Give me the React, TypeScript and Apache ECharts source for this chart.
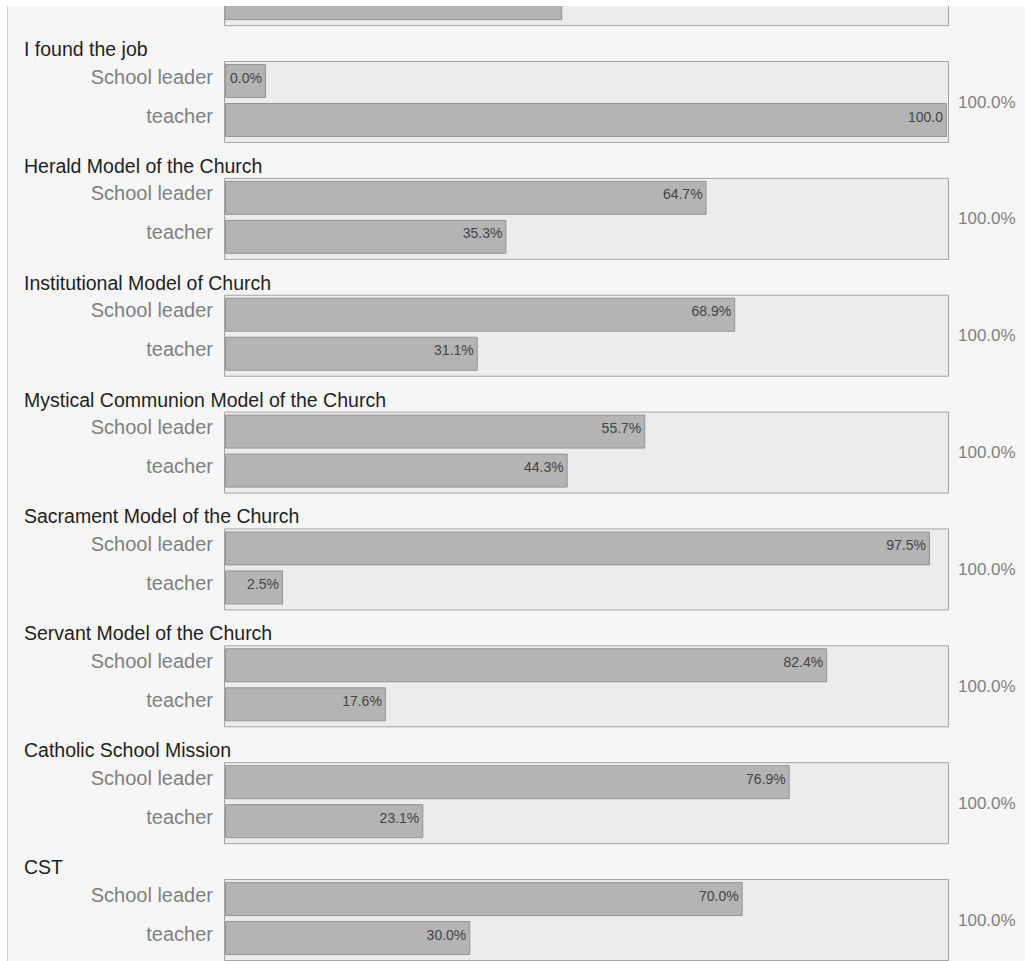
import React, { useEffect, useRef } from "react";
import * as echarts from "echarts";

// ---- data ----
const GROUPS = [
  "",
  "I found the job",
  "Herald Model of the Church",
  "Institutional Model of Church",
  "Mystical Communion Model of the Church",
  "Sacrament Model of the Church",
  "Servant Model of the Church",
  "Catholic School Mission",
  "CST",
];
const ROLES = ["School leader", "teacher"];
const SCHOOL_LEADER = [56.5, 0.0, 64.7, 68.9, 55.7, 97.5, 82.4, 76.9, 70.0];
const TEACHER = [43.5, 100.0, 35.3, 31.1, 44.3, 2.5, 17.6, 23.1, 30.0];
const TOTALS = [100.0, 100.0, 100.0, 100.0, 100.0, 100.0, 100.0, 100.0, 100.0];

// ---- layout ----
const FONT = '"Liberation Sans", Arial, Helvetica, sans-serif';
const X_MIN = -5.874;
const X_MAX = 100;
const SHIFT = 100; // chart is drawn 100px taller and shifted up so the partial first group fits
const PITCH = 116.86;
const FIRST_TOP = -61.86 + SHIFT;
const BOX_H = 81;
const GRID_H = 78;
const LEFT = 225;
const GRID_W = 721;
const CHART_H = 955 + SHIFT;

const fmt = (v: number) => (v >= 100 ? v.toFixed(1) : v.toFixed(1) + "%");

export default function App() {
  const ref = useRef<HTMLDivElement>(null);
  useEffect(() => {
    if (!ref.current) return;
    const chart = echarts.init(ref.current, undefined, { renderer: "svg" });
    const tops = GROUPS.map((_, i) => FIRST_TOP + i * PITCH);

    const graphic: any[] = [
      { type: "rect", z: 0, shape: { x: 0, y: 0, width: 7, height: CHART_H }, style: { fill: "#ffffff" } },
      { type: "line", z: 0, shape: { x1: 7.5, y1: 0, x2: 7.5, y2: CHART_H }, style: { stroke: "#d2d2d2", lineWidth: 1 } },
    ];
    tops.forEach((t, i) => {
      graphic.push({
        type: "rect",
        z: 0,
        shape: { x: LEFT - 0.5, y: t + 0.5, width: GRID_W + 3, height: BOX_H },
        style: { fill: "#ececec", stroke: "#a4a4a4", lineWidth: 1 },
      });
      if (i > 0) {
        graphic.push({
          type: "text",
          z: 5,
          style: {
            text: GROUPS[i],
            x: 24,
            y: t - 12,
            verticalAlign: "middle",
            fill: "#1e1e1e",
            fontSize: 19.5,
            fontFamily: FONT,
          },
        });
        graphic.push({
          type: "text",
          z: 5,
          style: {
            text: TOTALS[i].toFixed(1) + "%",
            x: 958,
            y: t + 41,
            verticalAlign: "middle",
            fill: "#808080",
            fontSize: 17,
            fontFamily: FONT,
          },
        });
      }
    });

    const makeRender = (showLabel: boolean) => (params: any, api: any) => {
      const v = api.value(0);
      const c = api.value(1);
      const start = api.coord([X_MIN, c]);
      const end = api.coord([v, c]);
      const band = api.size([0, 1])[1];
      const h = band - 6;
      const y0 = end[1] - h / 2;
      const children: any[] = [
        {
          type: "rect",
          shape: { x: start[0] + 0.5, y: y0 + 0.5, width: end[0] - start[0], height: h },
          style: { fill: "#b4b4b4", stroke: "#959595", lineWidth: 1 },
        },
      ];
      if (showLabel) {
        children.push({
          type: "text",
          style: {
            text: fmt(v),
            x: end[0] - 3,
            y: end[1] - 3,
            align: "right",
            verticalAlign: "middle",
            fill: "#444444",
            fontSize: 14,
            fontFamily: FONT,
          },
        });
      }
      return { type: "group", children };
    };

    chart.setOption({
      animation: false,
      backgroundColor: "#f6f6f6",
      grid: tops.map((t) => ({ left: LEFT, top: t, width: GRID_W, height: GRID_H })),
      xAxis: GROUPS.map((_, i) => ({
        type: "value",
        gridIndex: i,
        min: X_MIN,
        max: X_MAX,
        show: false,
        splitLine: { show: false },
      })),
      yAxis: GROUPS.map((_, i) => ({
        type: "category",
        gridIndex: i,
        data: ROLES,
        inverse: true,
        axisLine: { show: false },
        axisTick: { show: false },
        splitLine: { show: false },
        axisLabel: {
          show: i > 0,
          color: "#808080",
          fontSize: 20,
          fontFamily: FONT,
          margin: 12,
          verticalAlign: "bottom",
          lineHeight: 8,
        },
      })),
      graphic,
      series: GROUPS.map((_, i) => ({
        type: "custom",
        xAxisIndex: i,
        yAxisIndex: i,
        z: 3,
        clip: false,
        encode: { x: 0, y: 1 },
        data: [
          [SCHOOL_LEADER[i], 0],
          [TEACHER[i], 1],
        ],
        renderItem: makeRender(i > 0),
      })),
    });
    return () => chart.dispose();
  }, []);
  return (
    <div
      style={{
        position: "fixed",
        left: 0,
        top: 6,
        width: 1025,
        height: 955,
        overflow: "hidden",
      }}
    >
      <div
        ref={ref}
        style={{ position: "absolute", left: 0, top: -SHIFT, width: 1025, height: CHART_H }}
      />
    </div>
  );
}
